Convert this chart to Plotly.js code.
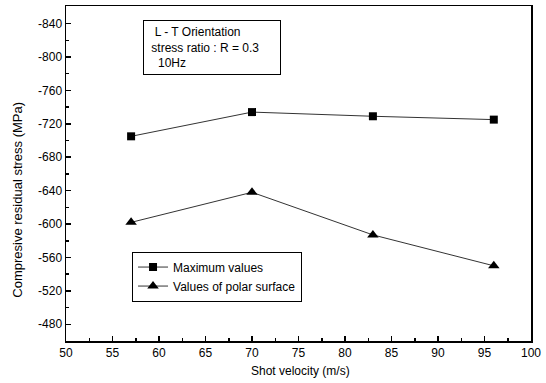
<!DOCTYPE html>
<html>
<head>
<meta charset="utf-8">
<script src="https://cdn.plot.ly/plotly-3.0.1.min.js"></script>
<style>html,body{margin:0;padding:0;background:#fff;}#chart{width:546px;height:383px;}</style>
</head>
<body>
<div id="chart"></div>
<script>
const shotVelocity = [57, 70, 83, 96];
const maximumValues = [-705, -734, -729, -725];
const polarSurfaceValues = [-602, -638, -587, -550];
const xTickValues = [50, 55, 60, 65, 70, 75, 80, 85, 90, 95, 100];
const yTickValues = [-840, -800, -760, -720, -680, -640, -600, -560, -520, -480];
const seriesNames = ["Maximum values", "Values of polar surface"];

const FONT = "Liberation Sans, Arial, sans-serif";

const traces = [
  {
    x: shotVelocity, y: maximumValues, name: seriesNames[0],
    type: "scatter", mode: "lines+markers",
    line: {color: "#333", width: 1},
    marker: {symbol: "square", size: 8, color: "#000"}
  },
  {
    x: shotVelocity, y: polarSurfaceValues, name: seriesNames[1],
    type: "scatter", mode: "lines+markers",
    line: {color: "#333", width: 1},
    marker: {symbol: "triangle-up", size: 10, color: "#000"}
  }
];

const layout = {
  width: 546, height: 383,
  margin: {l: 66, r: 15, t: 6, b: 42},
  paper_bgcolor: "#fff", plot_bgcolor: "#fff",
  font: {family: FONT, size: 12, color: "#000"},
  showlegend: true,
  legend: {
    x: 0.142, y: 0.267, xanchor: "left", yanchor: "top",
    bordercolor: "#000", borderwidth: 1, bgcolor: "#fff",
    font: {family: FONT, size: 12, color: "#000"},
    tracegroupgap: 0, itemwidth: 30
  },
  xaxis: {
    range: [50, 100], tickvals: xTickValues, ticktext: xTickValues.map(String),
    ticks: "inside", ticklen: 5, tickwidth: 1.5, tickcolor: "#000",
    minor: {dtick: 2.5, ticks: "inside", ticklen: 3, tickcolor: "#000", showgrid: false},
    showline: true, linecolor: "#000", linewidth: 1.5, mirror: true,
    showgrid: false, zeroline: false,
    tickfont: {family: FONT, size: 12, color: "#000"}
  },
  yaxis: {
    range: [-460, -861], tickvals: yTickValues, ticktext: yTickValues.map(String),
    ticks: "inside", ticklen: 5, tickwidth: 1.5, tickcolor: "#000",
    minor: {dtick: 20, ticks: "inside", ticklen: 3, tickcolor: "#000", showgrid: false},
    showline: true, linecolor: "#000", linewidth: 1.5, mirror: true,
    showgrid: false, zeroline: false,
    tickfont: {family: FONT, size: 12, color: "#000"}
  },
  annotations: [
    {
      xref: "paper", yref: "paper", x: 0.314, y: 0.876,
      xanchor: "center", yanchor: "middle", align: "left",
      text: "&nbsp;&nbsp;L - T Orientation<br>&nbsp;stress ratio : R = 0.3<br>&nbsp;&nbsp;&nbsp;10Hz",
      showarrow: false, bordercolor: "#000", borderwidth: 1, borderpad: 4,
      bgcolor: "#fff", width: 128,
      font: {family: FONT, size: 12, color: "#000"}
    },
    {
      xref: "paper", yref: "paper", x: (300 - 66) / 465, y: 0,
      yshift: -30, xanchor: "center", yanchor: "middle",
      text: "Shot velocity (m/s)", showarrow: false,
      font: {family: FONT, size: 12, color: "#000"}
    },
    {
      xref: "paper", yref: "paper", x: 0, y: (341.5 - 200) / 335.5,
      xshift: -48, xanchor: "center", yanchor: "middle", textangle: -90,
      text: "Compresive residual stress (MPa)", showarrow: false,
      font: {family: FONT, size: 13, color: "#000"}
    }
  ]
};

Plotly.newPlot("chart", traces, layout, {displayModeBar: false, staticPlot: true});
</script>
</body>
</html>
